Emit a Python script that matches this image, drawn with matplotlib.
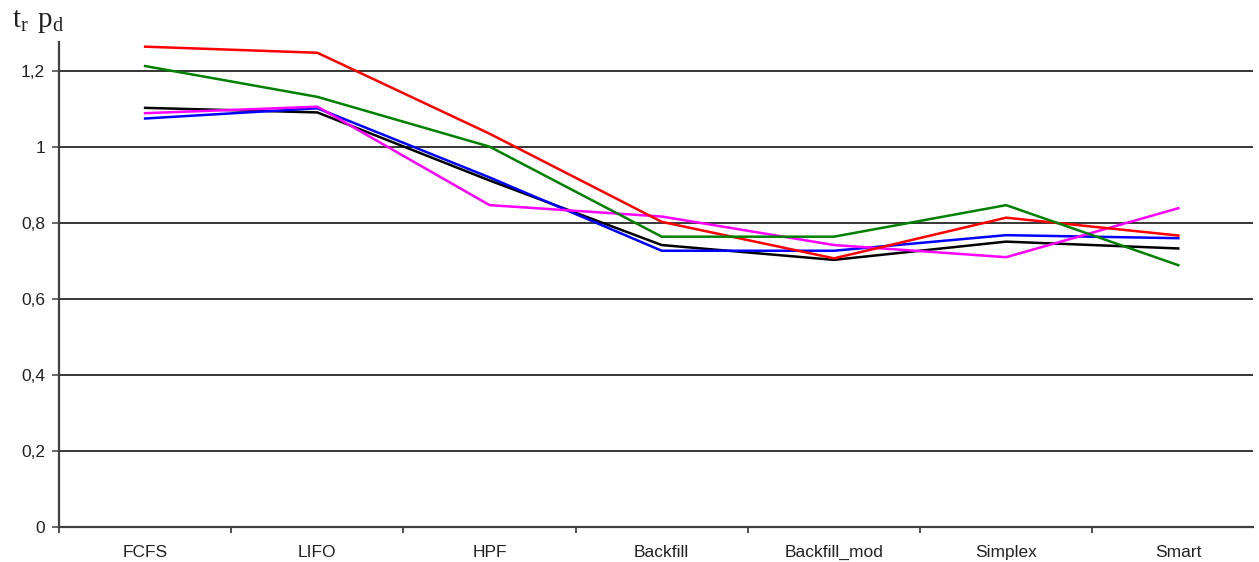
import numpy as np
import matplotlib
matplotlib.use("Agg")
from matplotlib import pyplot as plt

# scheduling strategies on the x axis
strategies = ["FCFS", "LIFO", "HPF", "Backfill", "Backfill_mod", "Simplex", "Smart"]

# series values per strategy
series_black = [1.103, 1.091, 0.912, 0.742, 0.703, 0.751, 0.733]
series_blue = [1.075, 1.102, 0.920, 0.727, 0.727, 0.768, 0.760]
series_magenta = [1.089, 1.106, 0.847, 0.817, 0.742, 0.710, 0.839]
series_red = [1.264, 1.248, 1.035, 0.803, 0.707, 0.814, 0.767]
series_green = [1.213, 1.132, 1.001, 0.764, 0.764, 0.847, 0.689]

yticks = [0, 0.2, 0.4, 0.6, 0.8, 1.0, 1.2]
ytick_labels = ["0", "0,2", "0,4", "0,6", "0,8", "1", "1,2"]

plt.rcParams["font.family"] = ["Liberation Sans", "DejaVu Sans"]
plt.rcParams["mathtext.fontset"] = "custom"
plt.rcParams["mathtext.rm"] = "Liberation Serif"
plt.rcParams["mathtext.it"] = "Liberation Serif"

fig = plt.figure(figsize=(12.59, 5.62), dpi=100)
ax = fig.add_axes([59 / 1259, 35 / 562, (1253 - 59) / 1259, 485 / 562])

x = np.arange(1, len(strategies) + 1)
for vals, col in [(series_black, "black"), (series_blue, "#0000ff"),
                  (series_magenta, "#ff00ff"), (series_red, "#ff0000"),
                  (series_green, "#008000")]:
    ax.plot(x, vals, color=col, lw=1.8, zorder=3)

ax.set_xlim(0.5, 7.434)
ax.set_ylim(0, 485 / 380)

# horizontal grid lines
for v in yticks[1:]:
    ax.axhline(v, color="black", lw=1.1, zorder=1)

ax.set_yticks(yticks)
ax.set_yticklabels(ytick_labels)
ax.set_xticks(x)
ax.set_xticklabels(strategies)
ax.set_xticks(np.arange(0.5, 7.5, 1.0), minor=True)

ax.tick_params(axis="y", length=5, width=1.1, color="#404040", pad=5,
               labelsize=12.5, labelcolor="#222222")
ax.tick_params(axis="x", which="major", length=0, pad=13, labelsize=12.5,
               labelcolor="#222222")
ax.tick_params(axis="x", which="minor", length=4, width=1.3, color="#404040")

for side in ["top", "right"]:
    ax.spines[side].set_visible(False)
for side in ["left", "bottom"]:
    ax.spines[side].set_color("#404040")
    ax.spines[side].set_linewidth(1.6)

fig.text(12 / 1259, 1 - 27 / 562, r"$\mathrm{t_r\;\, p_d}$", fontsize=21,
         ha="left", va="baseline", color="#222222")

fig.savefig("out.png", dpi=100, facecolor="white")
